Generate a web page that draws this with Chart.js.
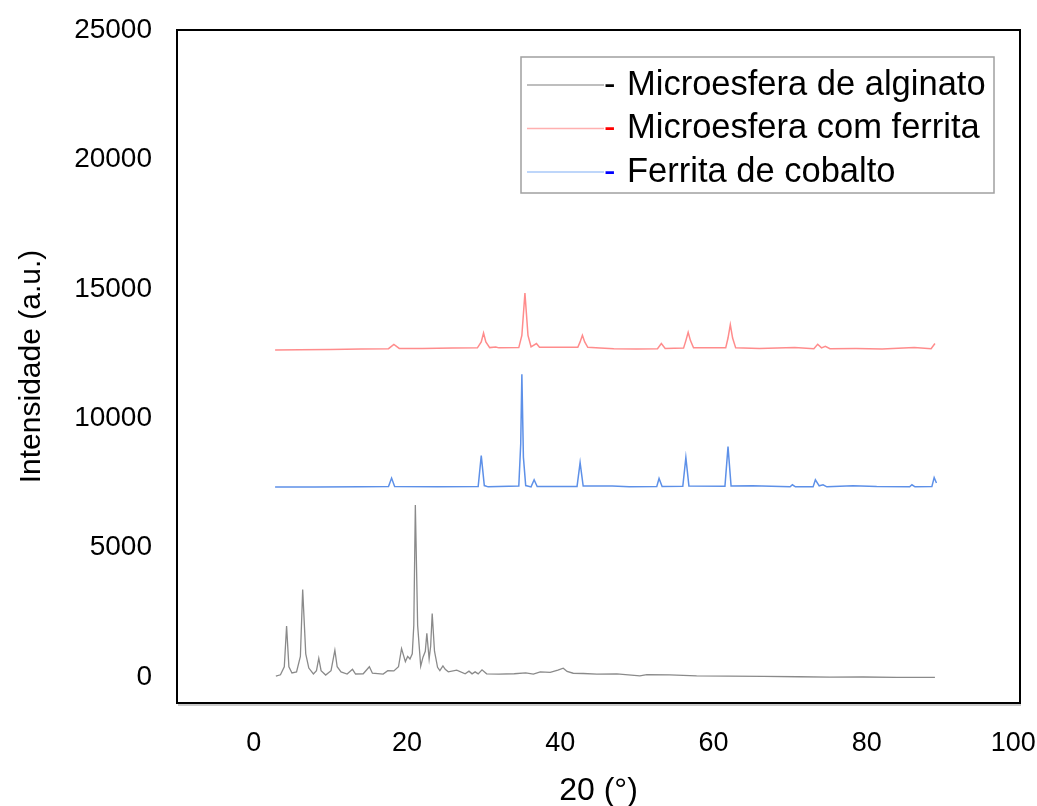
<!DOCTYPE html>
<html>
<head>
<meta charset="utf-8">
<script src="https://cdn.jsdelivr.net/npm/chart.js@4.4.0/dist/chart.umd.min.js"></script>
<style>
    html, body { margin: 0; padding: 0; background: #fff; }
    #wrap { width: 1037px; height: 806px; position: relative; }
</style>
</head>
<body>
<div id="wrap"><canvas id="xrdChart"></canvas></div>
<script>
// Nomes das séries (legenda)
const seriesNames = ["Microesfera de alginato", "Microesfera com ferrita", "Ferrita de cobalto"];

// Marcas dos eixos
const xTicks = [0, 20, 40, 60, 80, 100];
const yTicks = [0, 5000, 10000, 15000, 20000, 25000];

// Microesfera de alginato (cinza)
const alginatoX = [2.9, 3.5, 4.0, 4.3, 4.6, 5.0, 5.6, 6.1, 6.4, 6.8, 7.2, 7.8, 8.2, 8.5, 8.8, 9.4, 10.1, 10.6, 10.9, 11.4,
    12.2, 12.9, 13.3, 14.3, 15.1, 15.5, 16.9, 17.5, 18.3, 18.9, 19.3, 19.8, 20.1, 20.4, 20.7, 20.9, 21.1, 21.4, 21.8, 22.1,
    22.4, 22.6, 22.9, 23.1, 23.3, 23.6, 24.0, 24.3, 24.7, 25.0, 25.4, 26.5, 27.6, 28.1, 28.5, 28.9, 29.3, 29.8, 30.4, 32.0,
    34.0, 35.5, 36.5, 37.4, 38.7, 39.7, 40.4, 40.9, 41.7, 43.0, 44.8, 47.4, 50.4, 51.3, 54.3, 57.8, 62.0, 66.5, 71.0, 75.2,
    79.5, 83.9, 88.9];
const alginatoY = [40, 90, 400, 1970, 400, 160, 200, 800, 3380, 900, 350, 120, 250, 730, 250, 80, 250, 1040, 400, 200,
    120, 300, 120, 130, 400, 150, 115, 250, 240, 400, 1100, 600, 800, 700, 900, 2000, 6650, 2000, 420, 770,
    1000, 1690, 700, 1200, 2460, 1000, 380, 250, 435, 300, 204, 270, 127, 230, 127, 204, 127, 281, 127, 115,
    130, 160, 115, 204, 180, 270, 346, 220, 150, 140, 115, 127, 50, 100, 90, 50, 40, 25, 15, 0,
    5, -12, -12];

// Microesfera com ferrita (vermelho)
const comFerritaX = [2.8, 6, 10, 14, 17.6, 18.3, 19.0, 22, 26, 29.2, 29.7, 30.0, 30.3, 30.8, 31.6, 32.0, 34.6, 35.0, 35.4, 35.8,
    36.2, 36.9, 37.3, 42.3, 42.6, 42.9, 43.2, 43.6, 45.2, 47, 50, 52.7, 53.2, 53.7, 56.1, 56.4, 56.7, 57.0, 57.4, 61.6,
    61.9, 62.2, 62.5, 62.9, 66, 70.6, 73.1, 73.6, 74.1, 74.6, 75.2, 78.6, 82, 86.2, 88.4, 88.9];
const comFerritaY = [12640, 12650, 12660, 12680, 12690, 12850, 12700, 12700, 12710, 12720, 12950, 13294, 12950, 12730, 12755, 12720, 12730, 13200, 14834, 13200,
    12760, 12886, 12740, 12740, 12950, 13205, 12950, 12740, 12716, 12690, 12680, 12690, 12886, 12700, 12710, 13000, 13321, 13000, 12720, 12720,
    13100, 13617, 13100, 12720, 12700, 12736, 12690, 12859, 12720, 12780, 12690, 12693, 12680, 12730, 12690, 12886];

// Ferrita de cobalto (azul)
const cobaltoX = [2.8, 8, 14, 17.6, 18.0, 18.4, 24, 29.3, 29.7, 30.1, 30.6, 34.6, 34.85, 35.0, 35.2, 35.5, 36.2, 36.6, 37.0, 42.2,
    42.6, 43.0, 46.8, 49, 52.6, 52.9, 53.3, 56.0, 56.4, 56.8, 61.5, 61.9, 62.3, 65.1, 70.0, 70.3, 70.7, 73.0, 73.3, 73.8,
    74.3, 74.8, 78.2, 81.3, 85.6, 85.9, 86.3, 88.5, 88.8, 89.1];
const cobaltoY = [7340, 7340, 7350, 7360, 7688, 7360, 7350, 7360, 8559, 7400, 7350, 7380, 9000, 11704, 8500, 7400, 7350, 7623, 7360, 7360,
    8289, 7380, 7380, 7350, 7360, 7673, 7360, 7370, 8482, 7380, 7370, 8905, 7380, 7390, 7350, 7430, 7350, 7350, 7623, 7390,
    7430, 7350, 7392, 7360, 7350, 7430, 7350, 7360, 7711, 7500];

const FONT = "'Liberation Sans', Arial, Helvetica, sans-serif";

function toPoints(xs, ys) {
    return xs.map((x, i) => ({ x: x, y: ys[i] }));
}

// Moldura do gráfico e legenda em caixa
const framePlugin = {
    id: "frame",
    afterDraw(chart) {
        const ctx = chart.ctx;
        const a = chart.chartArea;
        ctx.save();
        // sombra leve
        ctx.strokeStyle = "#b8b8b8";
        ctx.lineWidth = 1.5;
        ctx.beginPath();
        ctx.moveTo(a.left + 1, a.bottom + 2);
        ctx.lineTo(a.right + 1, a.bottom + 2);
        ctx.stroke();
        ctx.strokeStyle = "#000";
        ctx.lineWidth = 2;
        ctx.strokeRect(a.left, a.top, a.right - a.left, a.bottom - a.top);

        // legenda
        const bx = a.left + 344, by = a.top + 27, bw = 473, bh = 136;
        ctx.strokeStyle = "#a0a0a0";
        ctx.lineWidth = 1.5;
        ctx.strokeRect(bx, by, bw, bh);
        const lineCols = ["#a8a8a8", "#ffb0b0", "#a8c8f8"];
        const dashCols = ["#000000", "#ff0000", "#0000ff"];
        ctx.font = "34.5px " + FONT;
        ctx.textBaseline = "middle";
        seriesNames.forEach((name, i) => {
            const y = by + 28 + i * 43.5;
            ctx.strokeStyle = lineCols[i];
            ctx.lineWidth = 1.5;
            ctx.beginPath();
            ctx.moveTo(bx + 6, y);
            ctx.lineTo(bx + 83, y);
            ctx.stroke();
            ctx.fillStyle = dashCols[i];
            ctx.fillText("-", bx + 83, y);
            ctx.fillStyle = "#000";
            ctx.fillText(name, bx + 106, y);
        });
        ctx.restore();
    }
};

const ctx = document.getElementById("xrdChart").getContext("2d");
new Chart(ctx, {
    type: "line",
    data: {
        datasets: [
            {
                label: seriesNames[0],
                data: toPoints(alginatoX, alginatoY),
                borderColor: "#8a8a8a",
                borderWidth: 1.3,
            },
            {
                label: seriesNames[1],
                data: toPoints(comFerritaX, comFerritaY),
                borderColor: "#ff8c8c",
                borderWidth: 1.5,
            },
            {
                label: seriesNames[2],
                data: toPoints(cobaltoX, cobaltoY),
                borderColor: "#5d90e8",
                borderWidth: 1.5,
            },
        ],
    },
    options: {
        responsive: true,
        maintainAspectRatio: false,
        animation: false,
        elements: { point: { radius: 0 }, line: { tension: 0 } },
        layout: { padding: { top: 30, right: 17, left: 0, bottom: 0 } },
        plugins: {
            legend: { display: false },
            tooltip: { enabled: false },
        },
        scales: {
            x: {
                type: "linear",
                min: -10,
                max: 100,
                grid: { display: false },
                border: { display: false },
                afterBuildTicks: (scale) => { scale.ticks = xTicks.map((v) => ({ value: v })); },
                afterFit: (scale) => {
                    scale.height = 103;
                    scale.paddingLeft = 0;
                    scale.paddingRight = 0;
                },
                ticks: {
                    color: "#000",
                    padding: 16,
                    maxRotation: 0,
                    font: { family: FONT, size: 27 },
                    // o último rótulo fica um pouco para dentro, como no original
                    callback: (v) => (v === 100 ? "100\u2002" : String(v)),
                },
                title: {
                    display: true,
                    text: "20 (°)",
                    color: "#000",
                    padding: { top: 0, bottom: 0 },
                    font: { family: FONT, size: 32, lineHeight: 0.9 },
                },
            },
            y: {
                min: -1000,
                max: 25000,
                grid: { display: false },
                border: { display: false },
                afterBuildTicks: (scale) => { scale.ticks = yTicks.map((v) => ({ value: v })); },
                afterFit: (scale) => {
                    scale.width = 177;
                    scale.paddingTop = 0;
                    scale.paddingBottom = 0;
                },
                ticks: {
                    color: "#000",
                    padding: 17,
                    font: { family: FONT, size: 28 },
                    callback: (v) => String(v),
                },
                title: {
                    display: true,
                    text: "Intensidade (a.u.)",
                    color: "#000",
                    padding: { top: 14, bottom: 0 },
                    font: { family: FONT, size: 30, lineHeight: 1.2 },
                },
            },
        },
    },
    plugins: [framePlugin],
});
</script>
</body>
</html>
